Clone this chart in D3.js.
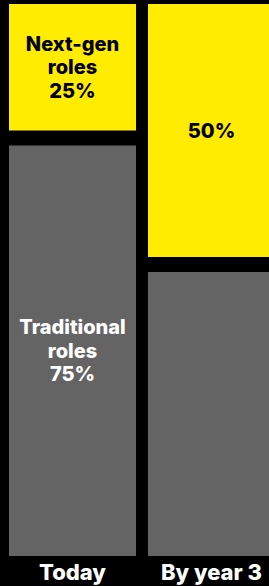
<!DOCTYPE html>
<html>
<head>
<meta charset="utf-8">
<script src="https://cdn.jsdelivr.net/npm/d3@7"></script>
<style>
  html, body { margin: 0; padding: 0; background: #000; }
  svg { display: block; font-family: Inter, "Noto Sans", sans-serif; }
</style>
</head>
<body>
<div id="chart"></div>
<script>
const categories = ["Today", "By year 3"];
const nextGen = [25, 50];
const traditional = [75, 50];
const nextGenLabels = [["Next-gen", "roles", "25%"], ["50%"]];
const traditionalLabels = [["Traditional", "roles", "75%"], []];

const width = 269;
const height = 586;
const gap = 15;
const barBottom = 556;

const svg = d3.select("#chart")
  .append("svg")
  .attr("width", width)
  .attr("height", height);

// x band for the two columns
const x = d3.scaleBand()
  .domain(categories)
  .range([9, 275])
  .paddingInner(0.086);

// y scale for share of roles
const y = d3.scaleLinear()
  .domain([0, 100])
  .range([510, 4]);

const rows = categories.map((c, i) => ({
  cat: c, top: nextGen[i], bottom: traditional[i],
  topLabel: nextGenLabels[i], bottomLabel: traditionalLabels[i]
}));

// yellow (next-gen) segments
svg.selectAll("rect.top")
  .data(rows)
  .enter()
  .append("rect")
  .attr("class", "top")
  .attr("x", d => x(d.cat))
  .attr("y", d => y(100))
  .attr("width", x.bandwidth())
  .attr("height", d => y(d.bottom) - y(100))
  .attr("fill", "#ffec00");

// gray (traditional) segments
svg.selectAll("rect.bottom")
  .data(rows)
  .enter()
  .append("rect")
  .attr("class", "bottom")
  .attr("x", d => x(d.cat))
  .attr("y", d => y(d.bottom) + gap)
  .attr("width", x.bandwidth())
  .attr("height", d => barBottom - y(d.bottom) - gap)
  .attr("fill", "#646464");

const lineH = 23.5;

function addLabel(lines, cx, cy, color) {
  const n = lines.length;
  lines.forEach((t, j) => {
    svg.append("text")
      .attr("x", cx)
      .attr("y", cy + (j - (n - 1) / 2) * lineH)
      .attr("dy", "0.36em")
      .attr("text-anchor", "middle")
      .attr("fill", color)
      .attr("font-size", 20)
      .attr("font-weight", 800)
      .text(t);
  });
}

rows.forEach(d => {
  const cx = x(d.cat) + x.bandwidth() / 2;
  addLabel(d.topLabel, cx, (y(100) + y(d.bottom)) / 2, "#000");
  addLabel(d.bottomLabel, cx, (y(d.bottom) + gap + barBottom) / 2, "#fff");
});

// category labels
svg.selectAll("text.cat")
  .data(categories)
  .enter()
  .append("text")
  .attr("class", "cat")
  .attr("x", d => x(d) + x.bandwidth() / 2)
  .attr("y", 580)
  .attr("text-anchor", "middle")
  .attr("fill", "#fff")
  .attr("font-size", 22)
  .attr("font-weight", 800)
  .text(d => d);
</script>
</body>
</html>
